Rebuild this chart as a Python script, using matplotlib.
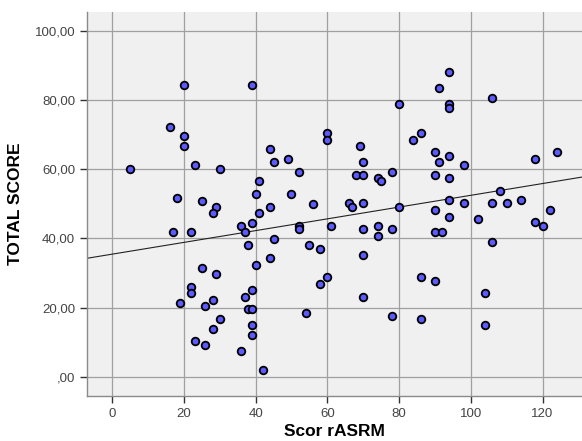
import numpy as np
import matplotlib
matplotlib.use("Agg")
import matplotlib.pyplot as plt

# Scor rASRM vs TOTAL SCORE
scor_rasrm = [
    5, 16, 20, 20, 20, 23, 30, 18, 25, 29, 28, 39, 44, 45, 49, 52, 41, 40, 50,
    44, 41, 39, 36, 37, 17, 22, 38, 45, 44, 40, 25, 29, 22, 22, 19, 28, 26, 37,
    39, 38, 39, 30, 28, 39, 39, 23, 26, 36, 42, 52, 52, 56, 55, 58, 58, 60, 54,
    60, 60, 61, 66, 67, 70, 69, 70, 68, 70, 74, 75, 78, 70, 74, 74, 78, 70, 70,
    78, 80, 80, 84, 86, 86, 86, 90, 91, 90, 90, 90, 92, 90, 94, 91, 94, 94, 94,
    94, 94, 94, 98, 98, 102, 104, 104, 106, 106, 106, 108, 110, 114, 118, 118,
    120, 122, 124,
]
total_score = [
    60.2, 72.3, 84.3, 69.5, 66.7, 61.2, 60.2, 51.8, 50.9, 49.2, 47.3, 84.3,
    65.8, 62.1, 63.0, 59.3, 56.5, 52.8, 52.8, 49.2, 47.3, 44.6, 43.6, 41.8,
    41.8, 41.8, 38.0, 39.8, 34.3, 32.4, 31.6, 29.7, 26.0, 24.2, 21.4, 22.3,
    20.4, 23.2, 25.1, 19.5, 19.5, 16.7, 13.9, 14.9, 12.1, 10.3, 9.3, 7.5, 1.9,
    43.6, 42.6, 50.1, 38.0, 37.0, 26.9, 28.8, 18.6, 70.4, 68.5, 43.6, 50.2,
    49.2, 50.2, 66.7, 62.1, 58.4, 58.4, 57.5, 56.5, 59.3, 42.6, 43.6, 40.8,
    42.6, 35.2, 23.2, 17.7, 78.7, 49.2, 68.5, 70.4, 28.8, 16.7, 64.9, 62.1,
    58.4, 48.2, 41.8, 41.8, 27.8, 88.0, 83.4, 78.7, 77.8, 63.9, 57.5, 51.0,
    46.3, 61.2, 50.2, 45.5, 24.2, 14.9, 80.6, 50.2, 39.0, 53.8, 50.2, 51.1,
    63.0, 44.7, 43.6, 48.2, 64.9,
]
x_ticks = [0, 20, 40, 60, 80, 100, 120]
y_ticks = [0, 20, 40, 60, 80, 100]
y_tick_labels = [",00", "20,00", "40,00", "60,00", "80,00", "100,00"]

plt.rcParams["font.family"] = ["Liberation Sans", "DejaVu Sans"]

fig = plt.figure(figsize=(5.82, 4.41), dpi=100)
ax = fig.add_axes([0.1495, 0.102, 0.8505, 0.8707])
ax.set_facecolor("#f0f0f0")

xlim = (-7, 131)
ax.set_xlim(*xlim)
ax.set_ylim(-5.5, 105.4)

ax.set_xticks(x_ticks)
ax.set_yticks(y_ticks)
ax.set_yticklabels(y_tick_labels)
ax.grid(True, color="#a0a0a0", linewidth=0.9)
ax.set_axisbelow(True)

# linear fit line across the whole plot
slope, intercept = np.polyfit(scor_rasrm, total_score, 1)
xs = np.array(xlim)
ax.plot(xs, intercept + slope * xs, color="#222222", linewidth=0.8, zorder=2)

ax.scatter(scor_rasrm, total_score, s=30, color="#5b5bff",
           edgecolors="black", linewidths=1.3, zorder=3)

for side in ["top", "right"]:
    ax.spines[side].set_visible(False)
for side in ["left", "bottom"]:
    ax.spines[side].set_color("#8a8a8a")
    ax.spines[side].set_linewidth(1.0)

ax.tick_params(axis="both", direction="out", length=5, width=1.0,
               color="#333333", labelcolor="#444444", labelsize=9.5)

ax.set_xlabel("Scor rASRM", fontsize=12.5, fontweight="bold", labelpad=3)
ax.set_ylabel("TOTAL SCORE", fontsize=12.5, fontweight="bold", labelpad=8)

fig.savefig("out.png", dpi=100)
